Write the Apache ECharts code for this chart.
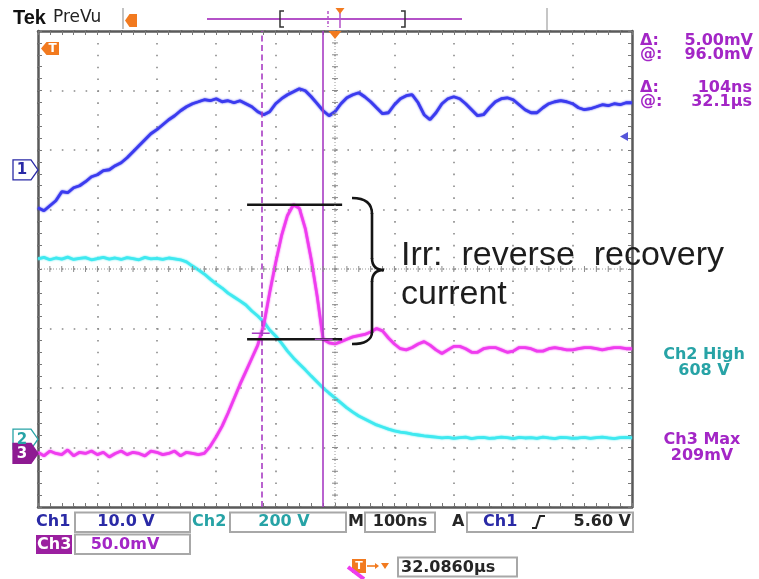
<!DOCTYPE html>
<html>
<head>
<meta charset="utf-8">
<script src="https://cdn.jsdelivr.net/npm/echarts@6/dist/echarts.min.js"></script>
<style>
  html, body { margin: 0; padding: 0; background: #fff; }
  #scope { width: 759px; height: 579px; }
</style>
</head>
<body>
<div id="scope"></div>
<script>
// Sample times, ns relative to the trigger point (100 ns/div)
const timeNs = [
  -500,-490,-480,-470,-460,-450,-440,-430,-420,-410,
  -400,-390,-380,-370,-360,-350,-340,-330,-320,-310,
  -300,-290,-280,-270,-260,-250,-240,-230,-220,-210,
  -200,-190,-180,-170,-160,-150,-140,-130,-120,-110,
  -100,-90,-80,-70,-60,-50,-40,-30,-20,-10,
  0,10,20,30,40,50,60,70,80,90,
  100,110,120,130,140,150,160,170,180,190,
  200,210,220,230,240,250,260,270,280,290,
  300,310,320,330,340,350,360,370,380,390,
  400,410,420,430,440,450,460,470,480,490,
  500
];

// Ch1, volts (10 V/div)
const ch1Volts = [
  -6.35,-6.86,-6.02,-5.18,-3.66,-3.83,-2.99,-2.66,-1.98,-1.14,
  -0.81,-0.13,0.03,0.71,1.21,2.05,3.06,4.07,5.08,6.08,
  6.76,7.6,8.44,9.11,9.95,10.62,11.13,11.46,11.8,11.63,
  11.97,11.46,11.63,11.29,11.63,11.13,10.62,9.78,9.28,9.78,
  11.13,11.97,12.64,13.14,13.65,13.31,12.3,11.13,9.95,9.11,
  9.78,11.13,12.13,12.64,12.97,12.3,11.46,10.45,9.45,9.61,
  10.96,11.97,12.47,12.64,11.29,9.28,8.44,9.61,11.13,11.97,
  12.3,11.97,11.13,10.12,9.11,9.28,10.45,11.46,11.97,12.13,
  11.8,10.96,10.12,9.61,9.61,10.45,11.13,11.46,11.63,11.46,
  11.13,10.45,10.12,10.29,10.62,10.96,10.79,11.13,10.96,11.29,
  11.29
];

// Ch2, volts (200 V/div)
const ch2Volts = [
  606,611,603,609,605,612,604,608,610,603,
  607,611,605,609,604,610,607,603,611,606,
  608,604,609,606,603,596,582,569,555,538,
  522,508,491,478,465,451,431,414,394,367,
  347,323,296,273,253,233,212,192,172,155,
  139,122,105,91,78,68,58,48,41,34,
  28,24,21,17,14,11,9,7,4,6,
  3,5,7,2,5,6,3,4,7,5,
  2,6,4,5,3,7,4,2,6,5,
  3,4,6,3,5,7,4,2,5,6,
  4
];

// Ch3, millivolts (50 mV/div) - diode current probe
const ch3Millivolts = [
  1,-2,2,0,-1,3,-2,1,0,2,
  -1,1,-3,0,2,-1,1,0,-2,2,
  1,-1,0,2,-2,1,0,-1,0,6,
  14,23,34,46,58,69,80,91,108,135,
  160,183,200,209,206,189,163,132,96,93,
  92,94,96,98,99,100,102,105,103,97,
  92,88,87,89,92,94,91,87,84,87,
  90,90,88,85,85,88,89,89,87,85,
  86,89,89,88,86,86,88,89,88,87,
  87,88,89,89,88,87,88,89,89,88,
  88
];

// Readouts
const ch3MaxMv = 209;
const cursorNs = [-124, -20];        // dashed, solid time cursors
const cursorMv = [101, 96];          // waveform values at the cursors
const irrSpanNs = [-148, 12];        // extent of the Irr marker bars
const triggerLevelV = 5.60;

const zip = (t, v) => t.map((x, i) => [x, v[i]]);

// vertical channel settings: units per division and ground position (div from centre)
const chan = {
  ch1: { perDiv: 10, zeroDiv: 1.665 },
  ch2: { perDiv: 200, zeroDiv: -2.86 },
  ch3: { perDiv: 50, zeroDiv: -3.10 }
};
const chAxis = c => ({
  type: 'value', show: false,
  min: (-4 - c.zeroDiv) * c.perDiv,
  max: (4 - c.zeroDiv) * c.perDiv
});

const FRAME = '#5a5a5a';
const GRIDDOT = '#8a8a8a';
const frameX = (pos, split) => ({
  type: 'value', position: pos, min: -500, max: 500, interval: 100,
  axisLine: { show: true, onZero: false, lineStyle: { color: FRAME, width: 2.5 } },
  axisTick: { show: true, inside: true, length: 4, lineStyle: { color: '#777', width: 1 } },
  minorTick: { show: true, splitNumber: 5, length: 4, lineStyle: { color: '#777', width: 1 } },
  axisLabel: { show: false },
  splitLine: { show: split, lineStyle: { color: GRIDDOT, width: 1.6, type: [1.6, 10.28] } }
});
const frameY = (pos, split) => ({
  type: 'value', position: pos, min: -4, max: 4, interval: 1,
  axisLine: { show: true, onZero: false, lineStyle: { color: FRAME, width: 2.5 } },
  axisTick: { show: true, inside: true, length: 4, lineStyle: { color: '#777', width: 1 } },
  minorTick: { show: true, splitNumber: 5, length: 4, lineStyle: { color: '#777', width: 1 } },
  axisLabel: { show: false },
  splitLine: { show: split, lineStyle: { color: GRIDDOT, width: 1.6, type: [1.6, 10.3] } }
});

const BLUE = '#3b3bef', CYAN = '#3fe9f0', MAGENTA = '#ef3cef', CURSOR = '#a83cc4';
const trace = (name, yIdx, data, color, z) => ({
  name, type: 'line', xAxisIndex: 0, yAxisIndex: yIdx, data,
  showSymbol: false, symbol: 'none', smooth: false, sampling: false, z,
  lineStyle: { color, width: 2.8, shadowColor: color, shadowBlur: 2 }
});

const chart = echarts.init(document.getElementById('scope'), null, { renderer: 'canvas' });
const option = {
  animation: false,
  backgroundColor: '#ffffff',
  grid: { left: 38, top: 31, width: 594, height: 476, show: false, containLabel: false, outerBoundsMode: 'none' },
  xAxis: [frameX('bottom', true), frameX('top', false)],
  yAxis: [frameY('left', true), frameY('right', false), chAxis(chan.ch1), chAxis(chan.ch2), chAxis(chan.ch3)],
  series: [
    trace('Ch2', 3, zip(timeNs, ch2Volts), CYAN, 3),
    trace('Ch1', 2, zip(timeNs, ch1Volts), BLUE, 3),
    trace('Ch3', 4, zip(timeNs, ch3Millivolts), MAGENTA, 4),
    // Irr bars: peak current and the cursor level after recovery
    {
      type: 'line', xAxisIndex: 0, yAxisIndex: 4, symbol: 'none', z: 6,
      data: [[irrSpanNs[0], ch3MaxMv], [irrSpanNs[1], ch3MaxMv], '-', [irrSpanNs[0], cursorMv[1]], [irrSpanNs[1], cursorMv[1]]],
      connectNulls: false,
      lineStyle: { color: '#151515', width: 2.6 }
    },
    // time cursors
    {
      type: 'line', xAxisIndex: 0, yAxisIndex: 0, data: [], z: 7,
      markLine: {
        silent: true, symbol: 'none', label: { show: false }, animation: false,
        lineStyle: { color: CURSOR, width: 1.6 },
        data: [
          { xAxis: cursorNs[0], lineStyle: { type: [6, 3.5], color: CURSOR, width: 1.6 } },
          { xAxis: cursorNs[1], lineStyle: { type: 'solid', color: CURSOR, width: 1.6 } }
        ]
      }
    },
    // amplitude marks where the waveform meets each time cursor
    {
      type: 'line', xAxisIndex: 0, yAxisIndex: 4, symbol: 'none', z: 7,
      data: [[cursorNs[0] - 16, cursorMv[0]], [cursorNs[0] + 14, cursorMv[0]], '-',
             [cursorNs[1] - 14, cursorMv[1]], [cursorNs[1] + 16, cursorMv[1]]],
      lineStyle: { color: CURSOR, width: 1.6 }
    },
    // Ch1 trigger level arrow at the right edge
    {
      type: 'scatter', xAxisIndex: 0, yAxisIndex: 2, z: 8,
      data: [[500, triggerLevelV]],
      symbol: 'triangle', symbolRotate: 90, symbolSize: [9, 8], symbolOffset: [-8, 0],
      itemStyle: { color: '#2a2ad0' }
    }
  ]
};
chart.setOption(option);

// ---- screen furniture ----
const P = (yIdx, pt) => chart.convertToPixel({ xAxisIndex: 0, yAxisIndex: yIdx }, pt);
const leftPx = P(0, [-500, 0])[0], rightPx = P(0, [500, 0])[0];
const topPx = P(0, [0, 4])[1], botPx = P(0, [0, -4])[1];
const cx = P(0, [0, 0])[0], cy = P(0, [0, 0])[1];

const UI = '"DejaVu Sans", Verdana, sans-serif';
const PURPLE = '#a326c6', TEAL = '#27a3a6', NAVY = '#2a2aa6', DARK = '#262626', ORANGE = '#f27a1f';

const els = [];
const txt = (x, y, text, fill, size, align, weight) => els.push({
  type: 'text', x, y, z: 20,
  style: { text, fill, font: `${weight || 'bold'} ${size}px ${UI}`,
           align: align || 'left', textAlign: align || 'left',
           verticalAlign: 'middle', textVerticalAlign: 'middle' }
});
const line = (x1, y1, x2, y2, stroke, w, dash) => els.push({
  type: 'line', z: 20, shape: { x1, y1, x2, y2 },
  style: { stroke, lineWidth: w, lineDash: dash || null }
});
const curve = (x1, y1, cpx1, cpy1, cpx2, cpy2, x2, y2, stroke, w) => els.push({
  type: 'bezierCurve', z: 20, shape: { x1, y1, cpx1, cpy1, cpx2, cpy2, x2, y2 },
  style: { stroke, lineWidth: w, fill: 'none' }
});
const poly = (points, fill, stroke, w) => els.push({
  type: 'polygon', z: 20, shape: { points },
  style: { fill: fill || 'none', stroke: stroke || null, lineWidth: w || 1 }
});
const pline = (points, stroke, w) => els.push({
  type: 'polyline', z: 20, shape: { points },
  style: { stroke, lineWidth: w, fill: 'none' }
});
const rect = (x, y, width, height, fill, stroke, w) => els.push({
  type: 'rect', z: 19, shape: { x, y, width, height },
  style: { fill: fill || 'none', stroke: stroke || null, lineWidth: w || 1 }
});

// centre cross of the graticule: fine dots plus small crossing ticks
line(leftPx, cy, rightPx, cy, '#9a9a9a', 1, [1, 2]);
line(cx, topPx, cx, botPx, '#9a9a9a', 1, [1, 2]);
const stepX = (rightPx - leftPx) / 50, stepY = (botPx - topPx) / 40;
for (let i = 1; i < 50; i++) line(leftPx + i * stepX, cy - 3, leftPx + i * stepX, cy + 3, '#8c8c8c', 1);
for (let j = 1; j < 40; j++) line(cx - 3, topPx + j * stepY, cx + 3, topPx + j * stepY, '#8c8c8c', 1);

// header
els.push({ type: 'text', x: 13, y: 18, z: 20, style: { text: 'Tek', fill: '#111', font: `bold 20px "Liberation Sans", Arial, sans-serif`, verticalAlign: 'middle', textVerticalAlign: 'middle' } });
txt(53, 18, 'PreVu', '#222', 17, 'left', 'normal');
line(123, 8, 123, 29, '#9a9a9a', 1.2);
poly([[125, 20.5], [129.5, 14], [137, 14], [137, 27], [129.5, 27]], ORANGE);
rect(131, 16.5, 2, 8, '#fff');
line(207, 19, 462, 19, '#b452c8', 2);
pline([[284, 11], [280, 11], [280, 27], [284, 27]], '#333', 1.5);
pline([[401, 11], [405, 11], [405, 27], [401, 27]], '#333', 1.5);
line(328, 11, 328, 27, '#b452c8', 1.5, [3, 2]);
line(340, 13, 340, 28, '#b452c8', 1.5);
poly([[335.5, 8], [344.5, 8], [340, 14]], ORANGE);
line(547, 8, 547, 30, '#a0a0a0', 1.2);

// trigger position marker and left trigger flag
poly([[cx - 6.5, topPx], [cx + 6.5, topPx], [cx, topPx + 8]], ORANGE);
poly([[41, 48.5], [46.5, 42], [59, 42], [59, 55], [46.5, 55]], ORANGE);
els.push({ type: 'text', x: 52.5, y: 48.8, z: 21, style: { text: 'T', fill: '#fff', font: `bold 12px ${UI}`, align: 'center', textAlign: 'center', verticalAlign: 'middle', textVerticalAlign: 'middle' } });

// channel ground markers
const marker = (yc, label, stroke, fill, textFill) => {
  poly([[13, yc - 10], [31, yc - 10], [38, yc], [31, yc + 10], [13, yc + 10]], fill, stroke, 1.3);
  els.push({ type: 'text', x: 22, y: yc + 0.5, z: 21, style: { text: label, fill: textFill, font: `bold 15px ${UI}`, align: 'center', textAlign: 'center', verticalAlign: 'middle', textVerticalAlign: 'middle' } });
};
marker(P(2, [0, 0])[1], '1', NAVY, '#fff', NAVY);
marker(P(3, [0, 0])[1], '2', TEAL, '#fff', TEAL);
marker(P(4, [0, 0])[1], '3', '#8e1a92', '#8e1a92', '#fff');

// Irr annotation: curly brace and caption
const INK = '#151515';
curve(352, 198, 364, 198, 372, 202, 372, 214, INK, 2.6);
line(372, 213, 372, 259, INK, 2.6);
curve(372, 258, 372, 266, 376, 270, 384, 270, INK, 2.6);
curve(384, 270, 376, 270, 372, 274, 372, 282, INK, 2.6);
line(372, 281, 372, 333, INK, 2.6);
curve(372, 332, 372, 340, 364, 344, 352, 344, INK, 2.6);
const CAP = '"Liberation Sans", Arial, sans-serif';
els.push({ type: 'text', x: 401, y: 256, z: 20, style: { text: 'Irr:  reverse  recovery', fill: '#1d1d1d', font: `34px ${CAP}`, verticalAlign: 'middle', textVerticalAlign: 'middle' } });
els.push({ type: 'text', x: 401, y: 295, z: 20, style: { text: 'current', fill: '#1d1d1d', font: `34px ${CAP}`, verticalAlign: 'middle', textVerticalAlign: 'middle' } });

// cursor readouts
txt(640, 41, 'Δ:', PURPLE, 16);
txt(753, 41, '5.00mV', PURPLE, 16, 'right');
txt(640, 55, '@:', PURPLE, 16);
txt(753, 55, '96.0mV', PURPLE, 16, 'right');
txt(640, 87.5, 'Δ:', PURPLE, 16);
txt(752, 87.5, '104ns', PURPLE, 16, 'right');
txt(640, 102, '@:', PURPLE, 16);
txt(752, 102, '32.1µs', PURPLE, 16, 'right');

// measurements
txt(704, 355, 'Ch2 High', TEAL, 16, 'center');
txt(704, 371, '608 V', TEAL, 16, 'center');
txt(702, 440, 'Ch3 Max', PURPLE, 16, 'center');
txt(702, 456, '209mV', PURPLE, 16, 'center');

// channel / timebase readout bar
const BOX = '#a8a8a8';
txt(36, 522, 'Ch1', NAVY, 16);
rect(75, 512.5, 115, 19.5, '#fff', BOX, 2);
txt(126, 522, '10.0 V', NAVY, 16, 'center');
txt(192, 522, 'Ch2', TEAL, 16);
rect(230, 512.5, 116, 19.5, '#fff', BOX, 2);
txt(284, 522, '200 V', TEAL, 16, 'center');
txt(348, 522, 'M', DARK, 16);
rect(365, 512.5, 70, 19.5, '#fff', BOX, 2);
txt(400, 522, '100ns', DARK, 16, 'center');
txt(452, 522, 'A', DARK, 16);
rect(467, 512.5, 166, 19.5, '#fff', BOX, 2);
txt(483, 522, 'Ch1', NAVY, 16);
pline([[532, 528], [536, 528], [540, 516], [545, 516]], '#222', 2);
txt(631, 522, '5.60 V', DARK, 16, 'right');

rect(36, 535, 36, 19, '#9b1fa0');
txt(37, 544.5, 'Ch3', '#fff', 16);
rect(75, 534.5, 115, 19.5, '#fff', BOX, 2);
txt(125, 544.5, '50.0mV', PURPLE, 16, 'center');

// horizontal position readout
line(348, 567, 364, 579, '#ee3cee', 4);
rect(352, 559, 14, 14, ORANGE);
els.push({ type: 'text', x: 359, y: 566.5, z: 21, style: { text: 'T', fill: '#fff', font: `bold 11px ${UI}`, align: 'center', textAlign: 'center', verticalAlign: 'middle', textVerticalAlign: 'middle' } });
line(367, 566, 377, 566, ORANGE, 1.6);
poly([[375, 563], [379, 566], [375, 569]], ORANGE);
poly([[381, 563], [389, 563], [385, 569]], ORANGE);
rect(398, 557.5, 119, 19, '#fff', BOX, 2);
txt(401, 567.5, '32.0860µs', DARK, 16);

chart.setOption({ graphic: { elements: els } });
</script>
</body>
</html>
